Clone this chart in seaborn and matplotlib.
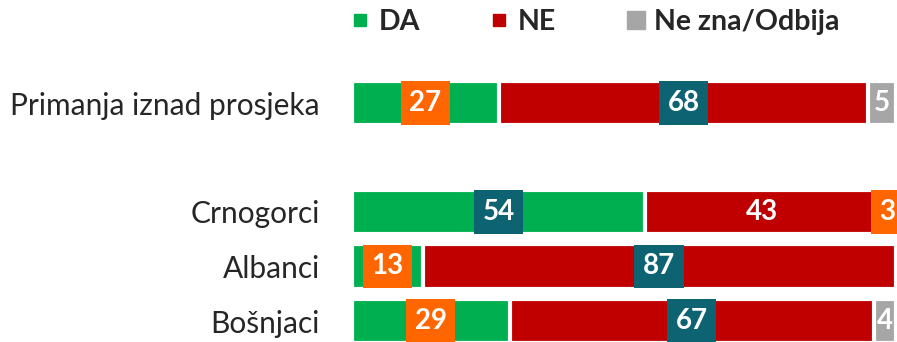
import matplotlib
matplotlib.use("Agg")
import matplotlib.pyplot as plt
from matplotlib.lines import Line2D
import seaborn as sns
import pandas as pd

# Survey answers per group (percent)
groups = ["Primanja iznad prosjeka", "", "Crnogorci", "Albanci", "Bošnjaci"]
data_groups = ["Primanja iznad prosjeka", "Crnogorci", "Albanci", "Bošnjaci"]
da = [27, 54, 13, 29]
ne = [68, 43, 87, 67]
nz = [5, 3, 0, 4]
series = ["DA", "NE", "Ne zna/Odbija"]

# Highlight box behind each value label (None = plain text)
box_da = ["orange", "teal", "orange", "orange"]
box_ne = ["teal", None, "teal", "teal"]
box_nz = [None, "orange", None, None]

GREEN = "#00B050"
RED = "#C00000"
GRAY = "#A6A6A6"
BOX = {"orange": "#FF6600", "teal": "#0E6373"}
TEXT = "#262626"

sns.set_theme(style="white")
plt.rcParams["font.family"] = ["Lato", "DejaVu Sans"]

df = pd.DataFrame({"group": data_groups, "da": da, "ne": ne, "nz": nz})
df["c_ne"] = df["da"] + df["ne"]
df["c_all"] = df["c_ne"] + df["nz"]

fig = plt.figure(figsize=(8.97, 3.42), dpi=100)
ax = fig.add_axes([351.9 / 897, 0, 543.7 / 897, 1])

# stacked bars: draw cumulative totals, longest first
common = dict(y="group", orient="h", order=groups, width=0.81,
              edgecolor="white", linewidth=3.0, ax=ax)
sns.barplot(data=df, x="c_all", color=GRAY, saturation=1, **common)
sns.barplot(data=df, x="c_ne", color=RED, saturation=1, **common)
sns.barplot(data=df, x="da", color=GREEN, saturation=1, **common)

ax.set_xlim(0, 100)
row_px = 54.5
top_px = 103.0
ax.set_ylim((342 - top_px) / row_px, -top_px / row_px)

def label(x, yi, val, box):
    if val <= 0:
        return
    kw = dict(ha="center", va="center", color="white", fontsize=20,
              fontweight="bold", clip_on=False, zorder=5)
    if box is not None:
        kw["bbox"] = dict(boxstyle="square,pad=0.31", fc=BOX[box], ec="none")
    ax.text(x, yi, str(val), **kw)

for i, g in enumerate(data_groups):
    yi = groups.index(g)
    label(da[i] / 2, yi, da[i], box_da[i])
    label(da[i] + ne[i] / 2, yi, ne[i], box_ne[i])
    label(da[i] + ne[i] + nz[i] / 2, yi, nz[i], box_nz[i])

ax.set_xlabel("")
ax.set_ylabel("")
ax.set_xticks([])
ax.tick_params(axis="y", length=0, pad=23, labelsize=21.5, labelcolor=TEXT)
for s in ax.spines.values():
    s.set_visible(False)

handles = [
    Line2D([], [], marker="s", ls="none", color=GREEN, markersize=8.6),
    Line2D([], [], marker="s", ls="none", color=RED, markersize=8.6),
    Line2D([], [], marker="s", ls="none", color=GRAY, markersize=12.7),
]
leg = fig.legend(handles, series, loc="center left", bbox_to_anchor=(351.6 / 897, 0.937),
                 ncol=3, frameon=False, handlelength=0.6, handletextpad=0.34,
                 columnspacing=2.5, borderpad=0, borderaxespad=0,
                 prop={"size": 20.5, "weight": "bold"})
for t in leg.get_texts():
    t.set_color(TEXT)

fig.savefig("out.png", dpi=100)
